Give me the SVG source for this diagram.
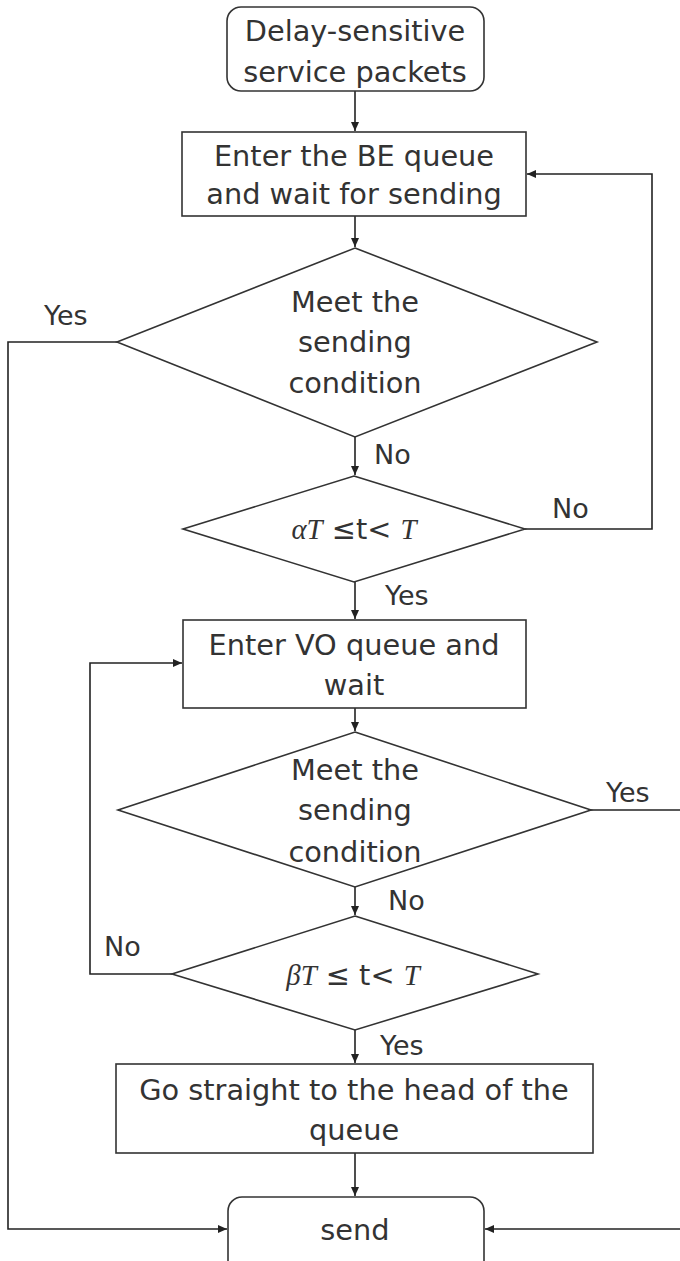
<svg xmlns="http://www.w3.org/2000/svg" width="680" height="1261" viewBox="0 0 680 1261">
<defs>
<marker id="ah" markerWidth="10" markerHeight="10" refX="9" refY="5" orient="auto" markerUnits="userSpaceOnUse">
<path d="M0,1 L9,5 L0,9 Z" fill="#222"/>
</marker>
<style>
.box{fill:#fff;stroke:#333;stroke-width:1.6}
.ln{fill:none;stroke:#222;stroke-width:1.6}
.t{font-family:"DejaVu Sans","Liberation Sans",sans-serif;font-size:28.8px;fill:#333;text-anchor:middle}
.lb{font-family:"DejaVu Sans","Liberation Sans",sans-serif;font-size:27px;fill:#333}
.m{font-family:"Liberation Serif","Times New Roman",serif;font-style:italic}
</style>
</defs>
<rect width="680" height="1261" fill="#fff"/>
<g id="connectors">
<path class="ln" d="M355,91 V131" marker-end="url(#ah)"/>
<path class="ln" d="M355,216 V247" marker-end="url(#ah)"/>
<path class="ln" d="M355,437 V475" marker-end="url(#ah)"/>
<path class="ln" d="M525,529 H652 V174 H527" marker-end="url(#ah)"/>
<path class="ln" d="M117,342 H8 V1229 H227" marker-end="url(#ah)"/>
<path class="ln" d="M355,582 V619" marker-end="url(#ah)"/>
<path class="ln" d="M355,708 V731" marker-end="url(#ah)"/>
<path class="ln" d="M591,810 H680"/>
<path class="ln" d="M680,1229 H485" marker-end="url(#ah)"/>
<path class="ln" d="M355,887 V915" marker-end="url(#ah)"/>
<path class="ln" d="M172,974 H90 V663 H182" marker-end="url(#ah)"/>
<path class="ln" d="M355,1030 V1063" marker-end="url(#ah)"/>
<path class="ln" d="M355,1153 V1196" marker-end="url(#ah)"/>
<text class="lb" x="44" y="325">Yes</text>
<text class="lb" x="374" y="464">No</text>
<text class="lb" x="552" y="518">No</text>
<text class="lb" x="385" y="605">Yes</text>
<text class="lb" x="606" y="802">Yes</text>
<text class="lb" x="388" y="910">No</text>
<text class="lb" x="104" y="956">No</text>
<text class="lb" x="380" y="1055">Yes</text>
</g>
<g id="start">
<rect class="box" x="227" y="7" width="257" height="84" rx="14"/>
<text class="t" x="355" y="41">Delay-sensitive</text>
<text class="t" x="355" y="82">service packets</text>
</g>
<g id="be-queue">
<rect class="box" x="182" y="132" width="344" height="84"/>
<text class="t" x="354" y="166">Enter the BE queue</text>
<text class="t" x="354" y="204">and wait for sending</text>
</g>
<g id="cond1">
<polygon class="box" points="355,248 597,342 355,437 117,342"/>
<text class="t" x="355" y="312">Meet the</text>
<text class="t" x="355" y="352">sending</text>
<text class="t" x="355" y="393">condition</text>
</g>
<g id="alpha">
<polygon class="box" points="354,476 525,529 354,582 183,529"/>
<text class="t" x="354" y="539"><tspan class="m">αT</tspan> ≤t&lt; <tspan class="m">T</tspan></text>
</g>
<g id="vo-queue">
<rect class="box" x="183" y="620" width="343" height="88"/>
<text class="t" x="354" y="655">Enter VO queue and</text>
<text class="t" x="354" y="695">wait</text>
</g>
<g id="cond2">
<polygon class="box" points="355,732 591,810 355,887 118,810"/>
<text class="t" x="355" y="780">Meet the</text>
<text class="t" x="355" y="820">sending</text>
<text class="t" x="355" y="862">condition</text>
</g>
<g id="beta">
<polygon class="box" points="355,916 538,974 355,1030 172,974"/>
<text class="t" x="353" y="985"><tspan class="m">βT</tspan> ≤ t&lt; <tspan class="m">T</tspan></text>
</g>
<g id="head">
<rect class="box" x="116" y="1064" width="477" height="89"/>
<text class="t" x="354" y="1100">Go straight to the head of the</text>
<text class="t" x="354" y="1140">queue</text>
</g>
<g id="send">
<rect class="box" x="228" y="1197" width="256" height="80" rx="14"/>
<text class="t" x="355" y="1240">send</text>
</g>
</svg>
